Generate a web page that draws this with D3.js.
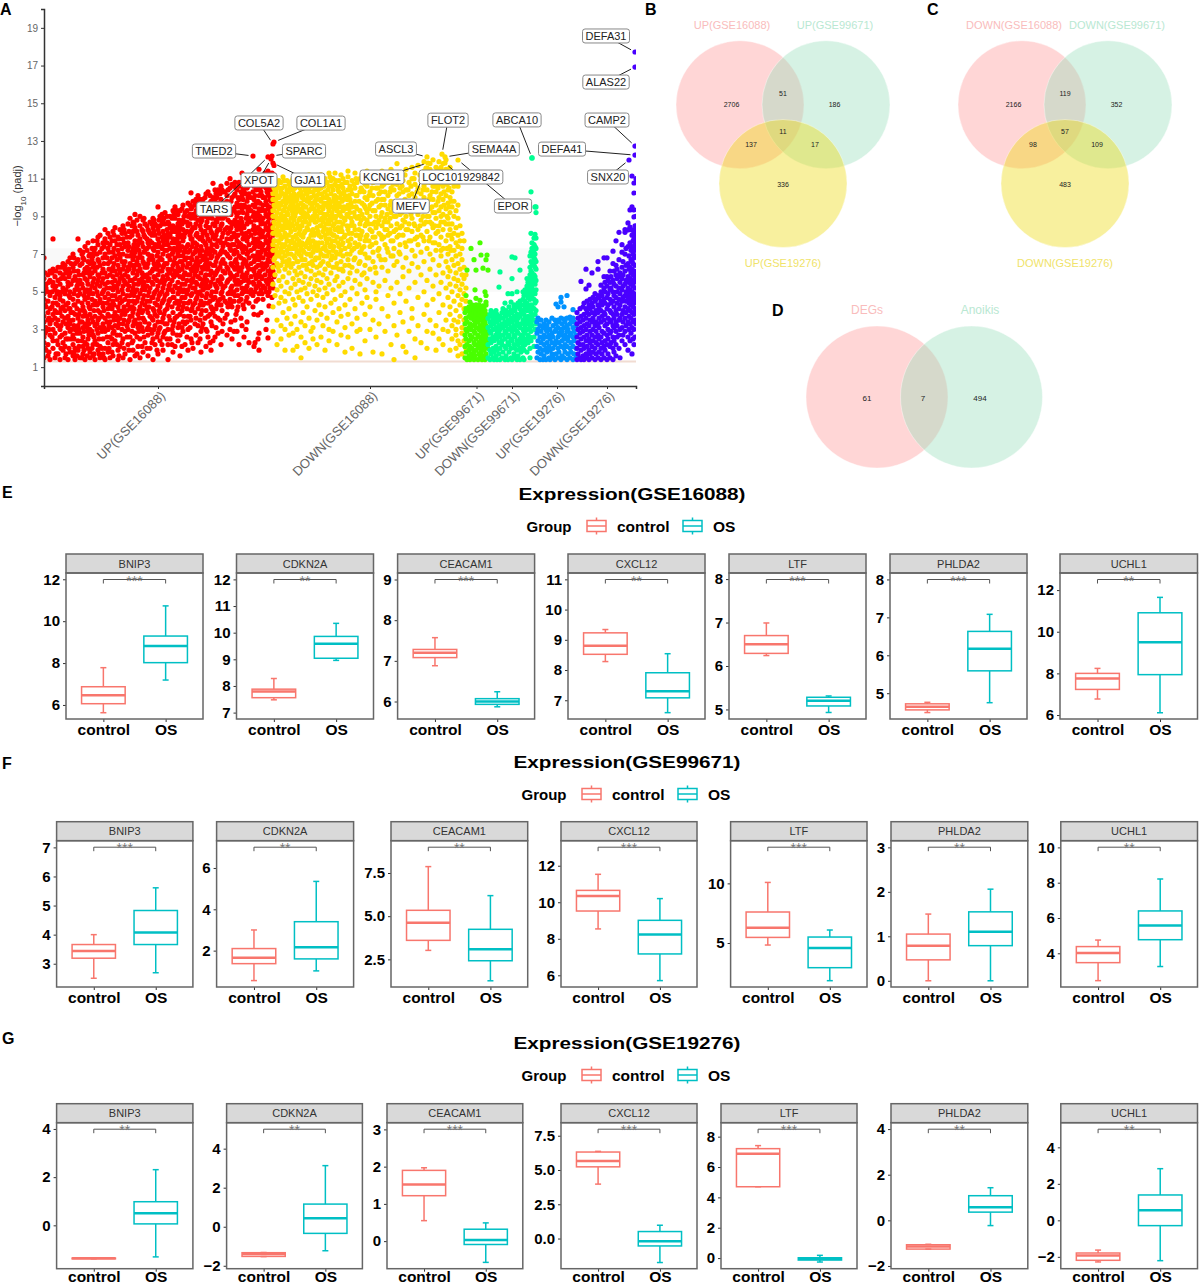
<!DOCTYPE html>
<html>
<head>
<meta charset="utf-8">
<script src="https://cdn.jsdelivr.net/npm/d3@7"></script>
<style>
body { margin: 0; background: #fff; }
text { font-family: "Liberation Sans", Arial, sans-serif; }
</style>
</head>
<body>
<svg id="fig" width="1200" height="1285"></svg>
<script>
// Panel A values. Each column: [position along axis, -log10(padj) values...]
const upGse16088 = [
[0,1.5,2.3,2.6,3.4,3.7,4.6,4.9,5.7,6.8],[2,1.9,2.9,3.1,4.2,5.2,5.4],[4,1.6,2.2,3.5,3.9,4.5,5.0,5.9],[6,1.4,2.7,3.3,4.1,4.8,5.6,6.1],
[9,2.0,2.4,3.0,3.8,4.4,5.3,5.5,6.2,7.8],[11,1.5,2.8,3.6,4.0,4.7,5.1,5.8],[14,1.7,2.2,3.2,3.5,4.3,5.0,5.6,6.3],[16,1.4,2.6,3.0,3.9,4.6,4.8,5.4,6.0],
[19,1.9,2.3,3.4,4.2,4.5,5.2,5.9,6.5],[21,1.5,2.1,2.8,3.6,4.0,4.9,5.7,6.2,6.4],[24,1.4,2.5,3.1,3.7,4.4,5.3,5.5,6.6],[26,1.8,2.9,3.3,4.1,4.7,5.0,6.0,6.8],
[29,1.6,2.2,2.7,3.5,3.9,4.6,5.6,6.3,7.0],[31,1.4,2.0,3.0,3.8,4.3,5.1,5.8,6.5],[34,1.9,2.4,3.2,3.6,4.5,4.8,5.4,6.1,6.7,7.8],[36,1.5,2.8,3.4,4.0,4.9,5.6,6.4,7.2],
[39,1.7,2.1,2.6,3.1,3.7,4.2,5.2,5.9,6.8,7.1],[41,1.4,2.3,3.3,3.9,4.6,5.0,5.7,6.2,7.4],[44,2.0,2.5,2.9,3.5,4.4,4.7,5.4,6.0,6.6,7.6],[46,1.5,1.8,3.0,3.8,4.1,5.1,5.8,6.5,7.0],
[49,1.6,2.2,2.7,3.4,4.3,4.9,5.5,6.3,6.9,7.7],[51,1.4,2.4,3.2,3.7,4.5,5.2,6.1,7.3],[54,1.9,2.8,3.5,4.0,4.8,5.6,5.9,6.7,7.5,7.9],[56,1.5,2.1,3.1,3.9,4.6,5.3,6.4,7.1,8.0],
[59,1.7,2.5,3.3,4.2,4.4,5.0,5.7,6.2,6.8,7.6],[61,1.4,2.0,2.9,3.6,4.7,5.4,6.0,7.0,7.8,8.3],[64,1.8,2.3,3.0,3.8,4.1,4.9,5.5,6.5,7.3,8.1],[66,1.5,2.6,3.4,4.3,5.2,5.9,6.6,7.5,7.9],
[69,1.6,2.2,2.8,3.7,4.5,5.1,5.8,6.3,7.1,8.2],[71,2.4,3.2,3.9,4.8,5.6,6.1,6.9,7.7,8.4],[74,1.4,1.9,3.1,3.5,4.2,5.0,5.4,6.4,7.2,7.9],[76,2.1,2.7,3.6,4.4,4.7,5.7,6.0,6.8,7.5,8.3],
[79,1.5,2.5,3.3,4.0,4.9,5.3,6.2,7.0,7.8,8.5],[81,1.7,2.9,3.8,4.6,5.5,5.9,6.6,7.4,8.1],[84,2.2,3.0,3.4,4.3,5.1,5.8,6.3,7.2,7.6,8.6],[86,1.4,2.6,3.7,4.1,4.8,5.6,6.5,6.9,7.9,8.9],
[89,1.9,2.4,3.2,3.9,4.5,5.2,6.0,6.7,7.3,8.2,8.7],[91,1.6,2.8,3.5,4.4,5.0,5.7,6.4,7.1,7.7,8.4,9.1],[94,2.1,3.1,3.8,4.7,5.4,6.1,6.8,7.5,8.0],[96,1.5,2.5,3.3,4.2,4.9,5.5,6.2,7.0,7.8,8.5,9.0],
[99,1.8,2.9,3.6,4.0,4.6,5.3,5.9,6.6,7.4,8.2,8.8],[101,2.3,3.4,4.3,5.1,5.8,6.3,7.2,7.9,8.6],[104,1.6,2.7,3.1,3.9,4.8,5.6,6.5,7.0,7.6,8.3],[106,2.0,3.0,3.7,4.5,5.2,6.0,6.9,7.7,8.1,8.7],
[109,1.4,2.5,3.5,4.1,4.7,5.4,6.2,6.7,7.3,8.4,8.9],[111,2.2,3.2,3.8,4.4,5.0,5.7,6.4,7.5,8.0,8.6],[114,1.7,2.8,3.4,4.6,5.3,5.9,6.6,7.1,7.8,8.3,9.5],[116,2.4,3.1,3.9,4.2,4.9,5.5,6.1,6.8,7.4,8.5,9.0],
[119,1.9,2.6,3.6,4.5,5.2,5.8,6.3,7.0,7.7,8.2,8.8],[121,2.9,3.3,4.0,4.8,5.6,6.5,7.2,7.9,8.6,9.2],[124,1.4,2.2,3.0,4.3,5.1,5.7,6.2,6.9,7.5,8.1,8.7],[126,2.5,3.5,4.6,5.4,6.0,6.7,7.3,8.0,8.4,9.0],
[129,1.8,2.8,3.2,3.9,4.7,5.0,5.9,6.4,7.1,7.8,8.5,9.3],[131,2.1,3.6,4.4,5.3,6.1,6.8,7.6,8.2,8.9,9.5],[134,2.4,3.1,4.1,4.9,5.5,6.3,7.0,7.4,8.0,8.6,9.1],[136,1.6,2.7,3.8,4.5,5.2,5.8,6.6,7.2,7.9,8.4,9.3],
[139,2.9,3.4,4.2,5.0,5.7,6.4,6.9,7.7,8.3,8.8,9.6],[141,2.2,3.3,4.7,5.4,6.0,6.7,7.3,8.1,8.7,9.2],[144,1.9,3.0,3.7,4.4,5.1,5.9,6.5,7.1,7.5,8.5,9.0,9.7],[147,2.5,3.5,4.0,4.8,5.6,6.2,6.8,7.8,8.2,8.9,9.4,10.25],
[149,2.0,4.3,5.2,5.7,6.3,7.0,7.6,8.4,9.1,9.8],[152,2.7,3.6,4.6,5.0,5.5,6.1,6.6,7.3,8.0,8.6,9.3,9.9],[154,2.3,3.2,4.1,4.9,5.8,6.4,7.2,7.9,8.8,9.5,10.1],[157,1.8,2.9,3.8,4.5,5.3,6.0,6.9,7.4,8.3,8.7,9.0,9.7],
[159,3.3,4.3,5.1,5.6,6.2,6.7,7.7,8.1,9.2,9.9],[162,2.1,3.0,4.0,4.7,5.4,5.9,6.5,7.1,7.5,8.5,9.4,10.2],[164,2.6,3.7,4.4,5.2,6.3,7.0,7.8,8.4,8.9,9.6,10.3],[167,1.9,3.4,4.2,4.8,5.5,6.1,6.8,7.3,8.2,9.1,9.8],
[169,2.4,3.9,4.6,5.7,6.4,7.2,7.9,8.6,9.3,10.0,10.75],[172,3.1,4.1,5.0,5.3,6.0,6.6,7.5,8.0,8.8,9.5,10.2],[174,2.8,3.6,4.5,5.6,6.2,6.9,7.7,8.3,9.0,9.7,10.4],[177,2.2,4.3,4.9,5.4,5.8,6.5,7.1,7.6,8.5,9.2,9.9,10.6],
[179,3.3,4.7,5.2,6.1,6.7,7.4,8.1,8.9,9.6,10.3],[183,2.7,3.8,4.4,5.5,6.3,7.0,7.8,8.4,9.1,9.8,10.1,10.75],[186,3.0,4.6,5.0,5.7,6.0,6.8,7.3,8.2,8.7,9.4,10.5,11.0],[188,2.5,4.2,4.9,5.3,6.4,7.5,7.9,8.6,9.3,10.0,10.7],
[191,3.5,4.8,5.6,6.2,6.6,7.2,8.0,8.8,9.5,10.2,10.8],[193,2.9,4.0,5.1,5.9,6.5,7.1,7.7,8.3,9.0,9.7,10.4],[195,2.2,4.5,5.4,6.1,6.9,7.6,8.5,9.2,9.9,10.6,10.8],[198,3.2,4.9,5.2,5.8,6.3,7.3,8.1,8.7,9.4,10.1,10.8,11.3],
[200,2.6,4.1,5.0,5.6,6.7,7.4,7.9,8.4,9.6,10.3,10.9],[203,3.4,4.7,5.3,6.0,6.4,7.0,7.7,8.6,9.1,9.8,10.5],[205,2.3,4.4,5.5,6.2,6.8,7.5,8.2,8.9,9.5,10.2,10.7],[207,4.9,5.1,5.8,6.5,7.2,8.0,8.7,9.3,10.0,10.9],
[210,2.1,3.8,5.4,6.1,6.6,7.3,7.8,8.5,9.2,9.9,10.6],[212,4.5,5.2,5.7,6.3,6.9,7.6,8.3,9.0,9.7,10.4,11.0],[215,1.9,2.8,4.9,5.5,6.0,6.7,7.4,8.1,8.8,9.4,10.1,10.7,11.5],[217,3.9,5.1,5.8,6.4,7.1,7.9,8.6,9.3,10.3,10.9],
[219,4.6,5.3,6.2,6.8,7.5,8.2,8.9,9.6,10.0,10.6],[222,3.0,5.0,5.6,6.5,7.0,7.7,8.4,9.1,9.8,10.5,11.1],[224,2.55,4.8,5.4,6.1,6.7,7.3,8.0,8.7,9.4,10.2,10.8,11.4],[226,5.2,5.9,6.6,7.2,7.8,8.5,9.2,9.9,10.4,11.0],
[228,4.7,5.5,6.0,6.3,6.9,7.6,8.3,9.0,9.5,10.1,10.7,11.3],[230,5.8,6.4,7.1,7.4,8.1,8.8,9.7,10.3,10.9,11.2,11.7]
];
// second pass over the red cloud, the gaps between the columns above
const upGse16088Fill = [
[1,2.0,2.8,4.3,5.1,6.0],[5,1.8,3.0,3.6,5.5],[8,2.6,3.5,4.2,5.0,6.0],[12,1.7,3.3,4.4,5.3,6.1],[13,2.4,3.9,4.9],[17,2.0,3.2,4.1,5.7,6.3],[18,2.7,3.7,5.0],
[22,1.7,2.5,3.3,4.3,5.1,6.0],[25,2.0,3.5,4.1,4.8,5.8,6.2],[27,2.5,3.0,3.9,5.4,6.5],[30,1.8,2.5,3.2,4.3,4.9,6.1,6.8],[33,1.6,2.8,4.1,5.3,5.6,6.6],[35,2.1,3.0,3.8,5.1,5.9],
[38,1.5,2.4,3.4,4.4,5.4,6.5,7.0],[40,1.9,2.9,4.0,4.8,6.0,6.7],[43,1.6,2.2,3.1,3.7,5.1,5.6,6.3,7.2],[45,2.7,3.3,4.2,4.9,6.2,6.9],[48,2.0,2.9,3.6,4.6,5.3,6.0,6.7,7.3],[50,1.7,2.6,4.0,5.7,6.5,7.1],
[53,2.2,3.0,3.3,4.3,5.0,5.4,6.3,7.0,7.7],[55,1.7,2.5,3.6,4.4,5.8,6.6],[58,2.0,2.9,3.7,4.9,5.5,6.0,7.3],[60,1.5,3.1,4.0,5.1,6.5,7.4],[63,2.6,3.4,4.4,5.2,5.8,6.8,7.6],[65,2.0,3.2,3.7,4.6,6.2,7.1],
[68,1.8,2.5,3.1,4.1,4.8,5.5,6.1,6.8,7.7],[70,2.9,3.5,4.3,5.3,6.5,7.3,8.0],[73,2.2,2.7,3.7,4.6,5.2,5.9,6.7,7.5],[75,1.6,3.3,4.0,5.5,6.2,7.0,7.8],[78,2.3,3.0,3.8,4.5,5.1,5.8,6.6,7.3,8.1],[80,2.0,3.5,4.2,5.6,6.4,7.6,8.3],
[83,2.6,3.2,4.0,4.8,5.4,6.1,6.9,7.9],[85,1.9,3.5,4.5,5.3,6.2,7.4,8.2],[88,2.3,2.9,3.7,4.2,5.0,5.6,6.4,7.1,8.0,8.5],[90,3.4,4.1,4.8,5.4,6.2,6.9,7.5,8.6],[93,1.7,2.6,3.3,4.5,5.1,5.9,6.6,7.3,8.2,8.8],[95,2.9,3.6,4.0,5.6,6.4,7.2,7.7],
[98,2.1,3.1,3.9,4.4,5.1,5.7,6.0,6.8,7.6,8.3],[100,2.6,3.5,4.8,5.5,6.5,7.1,8.0,8.9],[103,2.0,3.0,4.1,4.5,5.3,5.9,6.3,7.3,7.8,8.5],[105,3.3,4.2,5.0,5.7,6.7,7.4,8.2],[108,2.3,2.8,3.6,4.7,5.5,6.1,6.9,7.6,8.0,8.6],[110,3.0,4.0,4.9,5.8,6.5,7.2,8.2,8.8],
[113,1.9,2.6,3.7,4.3,5.1,5.6,6.2,6.9,7.4,8.5],[115,3.0,4.0,4.8,6.4,7.6,8.1,8.8],[118,2.2,3.4,4.4,5.0,5.6,6.1,6.7,7.3,7.9,8.6,9.1],[120,2.8,3.8,4.6,5.4,6.4,7.5,8.0,8.9],[123,2.5,3.3,4.1,4.9,5.9,6.5,7.2,7.7,8.3,9.0],[125,3.7,4.5,5.3,6.1,6.9,7.9,8.6],
[128,2.2,3.0,4.2,5.1,5.6,6.2,7.0,7.6,8.2,8.9],[130,3.4,4.7,5.8,6.6,7.3,8.4,9.1],[133,2.7,3.7,4.5,5.2,5.9,6.5,7.2,7.8,8.4,9.3],[135,3.3,4.3,5.0,6.1,6.9,7.6,8.2,8.8],[138,2.1,3.1,4.0,4.7,5.4,6.2,6.6,7.4,8.0,8.6,9.4],[140,3.7,4.4,5.1,5.9,7.1,7.9,9.0],
[143,2.6,3.4,4.1,4.9,5.6,6.3,6.8,7.4,8.2,8.7,9.3],[146,3.1,3.7,4.5,5.3,5.9,6.5,7.2,8.0,8.6,9.1,9.6],[148,2.3,4.1,4.9,5.5,6.1,6.7,7.4,7.8,8.3,9.0,9.5],[151,3.3,3.9,4.4,5.2,5.9,6.4,7.1,7.6,8.4,8.9,9.6],[153,4.7,5.4,6.2,6.8,7.5,8.1,9.1,9.7],
[156,2.5,3.5,4.3,5.0,5.7,6.6,7.0,7.8,8.5,9.2,9.9],[158,3.1,4.0,4.8,5.4,6.3,7.2,7.9,8.8,9.4],[161,3.6,4.4,5.2,5.8,6.4,6.9,7.6,8.2,9.0,9.6,10.0],[163,2.9,4.9,5.6,6.2,6.7,7.3,8.0,8.7,9.3],[166,2.3,3.8,4.5,5.3,5.9,6.5,7.1,7.7,8.4,9.0,9.7,10.1],
[168,3.2,4.1,5.0,6.0,6.9,7.5,8.1,8.9,9.5],[171,2.6,3.7,4.7,5.4,5.9,6.4,7.1,7.8,8.5,9.2,9.9,10.4],[173,4.3,5.2,6.1,6.8,7.4,8.2,8.7,9.4,10.0],[176,3.5,4.6,5.5,6.3,7.0,7.7,8.3,8.9,9.6,10.2],[178,2.9,4.0,5.0,5.7,6.6,7.2,7.9,8.6,9.3,10.4],
[181,3.6,4.5,5.3,6.0,6.5,7.1,7.6,8.3,9.0,9.7,10.3],[184,4.2,4.9,5.6,6.2,6.9,7.5,8.1,8.8,9.5,10.4],[187,3.4,4.4,5.2,5.9,6.5,7.2,7.8,8.4,9.1,9.8],[190,2.9,4.5,5.0,5.8,6.3,7.0,7.5,8.1,8.7,9.4,10.1,10.6],[192,3.8,5.4,6.7,7.9,8.5,9.2,10.5],
[194,4.2,4.8,5.6,6.3,7.4,8.0,8.7,9.5,10.0],[197,3.6,4.6,5.5,6.1,6.8,7.5,8.3,8.9,9.6,10.3],[199,4.3,5.0,5.9,6.5,7.1,7.8,8.5,9.2,9.9,10.5],[202,3.0,4.5,5.2,5.8,6.6,7.3,8.1,8.9,9.5,10.2,10.9],[204,5.0,5.6,6.3,7.1,7.9,8.7,9.3,10.0,10.6],
[209,4.2,4.8,5.5,6.2,6.9,7.6,8.3,9.0,9.6,10.3,10.8],[211,2.3,5.0,5.9,6.7,7.4,8.1,8.8,9.5,10.1],[214,2.5,3.77,4.6,5.3,5.8,6.4,7.1,7.8,8.4,9.2,9.8,10.5,11.1],[216,5.4,6.1,6.9,7.6,8.3,9.0,9.7,10.4],[218,4.9,5.7,6.5,7.3,8.0,8.7,9.4,10.1,10.8],
[221,5.2,5.9,6.3,7.2,7.9,8.6,9.3,10.0,10.7,11.3],[223,3.5,5.5,6.4,7.0,7.6,8.3,9.0,9.6,10.3,10.9],[225,4.25,5.0,5.7,6.9,7.5,8.2,8.9,9.5,10.1,10.6,11.2],[227,5.6,6.2,7.0,7.7,8.4,9.1,9.8,10.5,11.1],[229,5.2,6.1,6.7,7.3,8.0,8.6,9.3,10.0,10.6]
];
const downGse16088 = [
[229,2.9,4.2,5.4,6.3,7.2,7.5,8.1,8.4,9.0,9.3,9.9,10.2,10.7],[231,4.8,5.9,6.8,7.7,8.6,9.5,10.4,11.0],[233,2.2,3.5,5.1,6.5,7.0,7.4,8.0,8.3,8.9,9.2,9.7,10.1,10.6],
[235,4.4,5.6,6.1,6.9,7.6,8.2,8.7,9.4,10.0,10.5,10.9],[237,2.5,3.2,4.7,5.3,6.4,7.3,7.8,8.5,9.1,9.6,10.3,10.8],[239,3.9,5.8,6.6,7.1,7.9,8.3,8.8,9.3,9.8,10.2,11.1],
[241,1.9,3.0,4.5,5.0,6.2,6.9,7.5,8.1,8.6,9.0,9.5,10.0,10.6],[243,3.6,5.5,6.4,7.2,7.7,8.4,9.2,9.9,10.4,10.9],[245,2.7,4.1,4.9,6.0,6.7,7.4,8.0,8.7,9.4,9.8,10.3,10.7],
[247,3.3,5.2,6.3,7.0,7.6,8.2,8.9,9.6,10.1,10.8],[249,1.9,2.8,4.6,5.7,6.5,7.3,7.9,8.5,9.1,9.7,10.4,11.0],[251,3.7,4.3,5.4,6.1,6.8,7.5,8.3,9.0,9.5,10.0,10.5],
[253,2.1,3.0,5.0,5.9,6.6,7.1,7.8,8.6,9.3,9.9,10.6,10.9],[255,4.7,5.6,6.3,7.0,7.7,8.1,8.8,9.4,10.2,10.8],[257,1.5,2.6,3.4,5.1,6.0,6.9,7.4,8.0,8.5,9.2,9.7,10.3,11.1],
[259,3.9,4.5,5.5,6.4,7.2,7.9,8.7,9.0,9.6,10.1,10.7],[261,2.3,3.2,5.2,5.8,6.7,7.5,8.2,8.9,9.5,10.4,10.9],[263,4.2,4.9,6.2,7.0,7.6,8.4,9.1,9.8,10.2,10.6],
[265,2.0,3.6,5.4,6.5,7.3,7.8,8.6,9.3,9.9,10.5,11.2],[267,2.9,4.6,5.7,6.1,6.9,7.4,8.0,8.8,9.4,10.0,10.7],[269,2.5,3.1,5.0,6.4,7.1,7.7,8.3,9.0,9.7,10.3,10.9],
[271,4.0,5.3,5.9,6.7,7.5,8.1,8.7,9.2,9.8,10.4,11.1],[273,2.2,3.5,4.8,5.6,6.3,7.2,8.4,9.0,9.6,10.1,10.6],[275,4.3,5.1,6.0,6.8,7.6,8.0,8.8,9.5,10.2,10.9],
[277,2.6,3.8,5.5,6.5,7.0,7.9,8.5,9.2,9.8,10.5,11.2],[279,3.2,4.7,5.9,6.6,7.3,8.2,8.7,9.4,10.0,10.7],[281,1.9,4.2,5.2,6.2,7.4,8.0,8.9,9.6,10.3,11.0],
[283,3.6,4.9,5.7,6.9,7.6,8.3,9.1,9.7,10.1,10.8],[285,2.4,3.0,5.4,6.4,7.1,7.8,8.6,9.3,9.9,10.6,11.3],[287,4.4,6.0,6.7,7.5,8.1,8.8,9.5,10.2,10.9],
[289,2.9,3.9,5.1,6.3,7.2,8.0,8.5,9.0,9.8,10.4,11.0],[291,4.6,5.6,6.8,7.7,8.3,8.9,9.6,10.1,10.7,11.3],[293,2.2,3.4,5.8,6.5,7.0,7.9,8.7,9.3,10.0,10.6],
[295,4.1,5.3,6.2,7.4,8.2,9.1,9.7,10.3,10.9],[297,2.7,3.7,4.8,6.6,7.2,7.8,8.4,9.0,9.5,10.2,11.2],[299,5.5,6.1,6.9,7.6,8.6,9.3,9.9,10.5,11.0],
[301,1.8,3.1,4.3,5.0,6.4,7.3,8.0,8.8,9.4,10.1,10.8],[304,2.6,3.8,5.7,6.7,7.7,8.3,9.0,9.6,10.4,11.1,11.4],[306,4.6,6.0,7.0,7.5,8.5,9.2,9.9,10.6],
[308,2.0,3.3,5.2,6.3,7.2,8.1,8.7,9.5,10.2,10.9],[311,4.1,5.6,6.8,7.6,8.3,9.0,9.8,10.5,11.3],[313,2.9,3.6,4.9,6.1,7.4,8.0,8.9,9.4,10.1,10.8],
[316,1.7,3.0,5.4,6.6,7.1,7.8,8.6,9.3,10.3,11.0],[318,4.4,5.9,7.3,8.2,9.1,9.7,10.4,11.2],[321,2.4,3.8,5.1,6.4,7.0,7.7,8.5,9.5,10.0,10.7],
[323,4.7,5.7,6.8,8.0,8.8,9.2,9.9,10.6,11.4],[326,3.0,4.2,6.2,7.4,8.3,9.0,9.6,10.3,11.0],[329,1.8,3.5,5.5,6.6,7.1,7.9,8.6,9.3,10.1,10.8,11.3],
[332,2.6,4.6,5.0,6.0,7.6,8.4,9.0,9.8,10.5,11.1],[335,3.3,5.3,6.9,7.3,8.1,8.8,9.5,10.2,10.9],[338,1.7,4.1,6.3,7.8,8.5,9.2,9.9,10.6,11.4],
[341,2.9,5.6,6.7,7.5,8.3,8.9,9.6,10.3,11.0],[344,3.7,4.8,6.1,7.1,8.0,8.7,9.4,10.1,10.8,11.2],[347,2.2,5.2,6.9,7.7,8.5,9.2,9.8,10.5,11.5],
[350,1.4,3.2,4.4,6.4,7.3,8.2,9.0,9.7,10.4,11.1],[353,2.7,5.5,6.6,7.9,8.6,9.4,10.1,10.7,11.8],[356,3.9,4.9,7.0,7.5,8.4,9.1,9.8,10.5,11.2],
[359,2.1,3.4,5.8,6.3,8.0,8.8,9.5,10.3,10.9],[362,1.8,4.5,6.8,7.4,8.3,9.0,9.7,10.4,11.5],[365,2.9,5.2,6.1,7.7,8.6,9.3,10.1,10.8],
[368,3.6,4.1,6.5,7.2,8.2,8.9,9.6,10.2,11.0,11.6],[371,1.5,2.5,5.5,6.9,7.8,8.5,9.4,10.0,10.7,11.3],[374,3.2,4.7,6.3,7.5,8.3,9.1,9.8,10.5,11.7],
[377,2.3,5.9,7.1,8.0,8.8,9.5,10.2,10.9],[380,3.8,5.0,6.6,7.7,8.6,9.3,10.0,10.6,11.4,11.9],[383,2.0,2.9,4.3,5.6,7.3,8.2,9.0,9.7,10.4,11.1,11.56],
[386,3.5,6.2,7.0,7.9,8.7,9.4,10.1,10.8,11.5,11.8],[389,2.8,4.6,5.3,6.7,7.6,8.4,9.2,9.9,10.6,11.2,12.0],[392,1.9,3.2,5.9,7.2,8.1,8.9,9.6,10.3,10.9,11.6],
[395,2.5,3.9,4.9,6.4,7.5,8.5,9.3,10.0,10.7,11.3,11.9],[397,5.5,6.9,7.9,8.7,9.5,10.2,11.0],[399,2.2,3.0,4.3,6.0,7.3,8.3,9.1,9.9,10.6,11.4,11.8],
[402,3.5,5.2,6.6,7.7,8.6,9.4,10.1,10.8,11.5,12.0],[404,2.9,4.7,5.8,6.3,7.0,8.0,8.9,9.7,10.4,11.2],[406,1.9,3.8,4.2,5.4,6.1,7.4,8.3,9.2,10.0,10.8,11.6],
[408,2.5,3.2,5.0,6.7,7.8,8.6,9.5,10.3,11.1],[410,3.5,4.5,5.7,6.4,7.2,8.1,9.0,9.8,10.6],[412,2.0,2.7,3.0,4.0,5.3,6.0,6.9,7.6,8.4,9.3],
[414,1.6,2.4,3.4,4.8,5.6,6.5,7.4,8.0,8.9,9.6,10.6],[416,2.2,3.7,4.3,5.1,6.2,7.0,7.7,8.5],[418,1.7,2.8,3.1,4.6,5.4,5.9,6.7,7.3,8.1],[420,2.4,3.5,4.1,4.9,5.7,6.3,7.7],[422,2.0,3.0,4.5,5.2,5.9]
];
// second pass over the yellow cloud, where it is solid in the picture
const downGse16088Fill = [
[230,6.7,7.7,8.7,9.6,10.5],[232,7.2,8.2,9.0,9.9,10.3],[234,6.3,7.7,8.5,9.5,10.8],[236,7.1,8.0,8.9,9.7,10.1],[238,6.8,7.5,8.3,9.0,10.5],[240,7.4,8.4,9.3,9.8,10.9],[242,6.6,7.9,8.8,9.7,10.2],
[244,7.0,7.7,8.5,9.1,10.0],[246,6.5,7.3,8.4,9.5,10.5],[248,7.7,8.6,9.3,9.9,10.9],[250,6.9,7.6,8.8,9.4,10.2],[252,7.3,8.0,9.2,9.8,10.7],[254,6.6,7.5,8.4,9.6,10.1],[256,7.2,8.3,8.9,10.5],
[258,6.7,7.6,8.5,9.4,10.0],[260,7.1,8.1,9.2,9.9,10.6],[262,6.4,7.4,8.7,9.5,10.3],[264,7.7,8.3,9.0,10.0,10.9],[266,7.0,7.6,8.9,9.7,10.3],[268,6.6,8.2,9.5,10.6],[270,7.3,8.0,8.9,9.4,10.1],
[272,6.8,7.6,8.7,9.9,10.8],[274,7.4,8.2,9.3,10.4],[276,6.4,7.2,8.5,9.2,9.9,10.5],[278,7.6,8.9,9.5,10.2,11.0],[280,6.9,8.4,9.1,9.7,10.6],[282,7.2,7.8,8.6,10.0],[284,6.5,8.1,8.8,9.5,10.4],
[286,7.4,8.3,9.0,9.7,11.1],[288,6.9,7.7,9.2,10.6],[290,7.4,8.0,8.6,9.4,10.0],[292,6.3,7.1,8.3,9.0,9.8,10.9],[294,7.6,8.4,9.5,10.4],[296,7.0,8.7,9.2,10.0,10.6],[298,6.2,7.5,8.2,9.8,10.7],
[300,7.9,8.9,9.5,10.3],[303,7.0,8.5,9.1,9.9,10.8],[305,6.4,7.4,8.1,9.4,10.1],[307,7.8,8.9,9.7,10.4],[310,6.7,7.3,8.5,9.2,10.7],[312,8.0,9.5,10.1,11.0],[315,6.5,7.5,8.3,9.0,9.8],
[317,7.1,8.0,8.8,10.5],[320,6.0,7.4,8.9,9.6,10.3],[322,7.9,8.6,9.4,11.0],[325,6.8,7.7,8.6,9.4,10.1],[328,7.5,8.2,9.7,10.5],[331,6.3,7.9,8.7,9.3,11.0],[334,7.2,8.6,9.9,10.5],[337,6.7,8.0,9.0,9.6,10.3],
[340,7.9,8.7,9.9,10.7],[343,7.3,8.3,9.1,11.0],[346,8.1,8.9,9.6,10.3],[349,6.9,7.7,9.4,10.7],[352,8.3,9.0,9.8,11.1],[355,7.1,8.0,9.5,10.2],[358,8.5,9.2,10.6],[361,7.6,8.7,9.9,11.2],
[364,8.3,9.5,10.4],[367,7.7,9.1,10.6],[370,8.6,9.8,11.0],[373,7.9,9.3,10.3],[376,8.5,9.8,11.2],[379,7.9,9.0,10.4],[382,8.7,9.4,10.8],[385,7.7,9.0,9.9,11.3],[388,8.6,9.5,10.3,11.0],
[391,7.6,8.5,9.2,10.6],[394,8.2,9.8,10.5,11.5],[397,7.2,9.0,11.6],[400,8.7,9.6,10.3,11.2],[403,7.3,9.0,10.7],[405,8.6,9.5,10.5,11.4],[407,7.2,8.0,9.8]
];
const upGse99671 = [
[421,1.5,2.1,2.7,3.3,3.9],[422,1.8,2.5,3.0,3.6,4.1,4.8],[423,1.4,2.2,2.9,3.4,4.0,6.15],[425,1.6,1.9,2.4,3.1,3.7,4.2],[426,1.4,2.1,2.7,3.3,3.9,4.45],[427,1.7,2.5,3.0,3.6,4.1,7.3],
[428,1.5,2.0,2.6,3.2,3.8,4.3],[430,1.4,1.8,2.3,2.9,3.5,4.0,6.7],[431,1.6,2.2,2.8,3.3,3.7,4.2,5.1],[432,1.9,2.5,3.1,3.9,4.3,4.65,6.15],[434,1.4,2.1,2.7,3.4,3.6,4.1],
[435,1.7,2.3,3.0,3.8,4.3],[436,1.5,2.0,2.6,3.2,4.0,4.55,7.6],[437,1.8,2.4,2.9,3.5,4.2,6.95],[438,1.4,2.2,3.1,3.7,4.1],[439,1.6,2.0,2.7,3.3,3.9,4.25,6.25],[440,1.9,2.5,3.0,3.6,4.2],
[441,1.4,2.3,2.8,3.4,4.0,5.0],[442,1.7,2.1,2.6,3.2,3.8,4.3,4.45,4.8,6.7],[443,1.5,2.4,3.0,3.6,6.95],[444,2.0,2.8,6.15]
];
const downGse99671 = [
[444,1.5,2.2,3.1,3.6],[446,1.4,1.9,2.5,2.9,3.4,3.8],[447,1.7,2.3,2.8,3.2,3.7,4.0],[449,1.5,2.0,2.6,3.0,3.5,3.9],[450,1.4,1.8,2.4,3.3,3.7],[452,1.6,2.1,2.7,3.1,3.6,4.0],
[453,1.4,1.9,2.5,2.9,3.4,3.8],[455,1.7,2.3,2.8,3.2,3.5,5.25],[456,1.4,2.0,2.6,3.0,3.7,6.05],[458,1.5,2.2,2.4,3.3,3.9],[459,1.8,2.7,3.1,3.6,4.1],[461,1.4,2.1,2.5,2.9,3.4,3.8,4.4],
[462,1.6,2.0,2.8,3.2,3.7,4.0],[464,1.4,2.3,2.6,3.0,3.5,3.9,4.9],[465,1.8,2.2,2.7,3.3,3.8,4.2],[467,1.5,2.0,2.5,3.1,3.6,4.0,4.45],[468,1.4,2.4,2.9,3.4,3.9,6.85,5.7,4.9],[470,1.7,2.2,2.7,3.2,3.7,4.1,4.3],
[471,1.5,2.0,2.6,3.0,3.5,4.0,6.8],[473,1.4,1.9,2.4,2.9,3.4,3.8,4.2,5.0],[474,1.6,2.2,2.8,3.2,3.6,4.4],[476,1.4,2.0,2.5,3.1,3.7,4.1,4.5,6.15],[477,1.8,2.3,2.7,3.3,3.9,4.3],[479,1.5,2.1,2.6,3.0,3.5,4.0,4.6,5.0],
[480,1.4,1.9,2.4,2.9,3.4,3.8,4.3,4.8],[481,2.2,2.8,3.2,3.6,4.1,4.5,5.1],[483,1.8,2.5,3.0,3.5,4.0,4.4,4.9,5.3,5.7],[484,2.3,2.7,3.3,3.7,4.2,4.7,5.1,5.5],[486,1.5,2.0,2.6,3.1,3.6,4.0,4.6,5.0,5.4,5.9,6.3,6.9],
[487,2.4,2.9,3.4,3.9,4.3,4.8,5.3,5.7,6.1,6.6,7.1,8.1,10.3],[488,3.2,3.7,4.2,4.7,5.2,5.6,6.0,6.5,6.9,7.3,7.6,12.1],[490,2.1,2.6,3.5,4.1,4.6,5.0,5.5,5.9,6.4,6.8,7.2,7.5,7.85],[491,3.0,3.8,4.4,4.9,5.4,5.8,6.3,6.7,7.0,7.4,8.05,9.5],[492,3.3,4.0,4.5,5.1,5.6,6.2,6.6,7.3,7.85,9.2,9.5]
];
const upGse19276 = [
[493,1.5,2.1,2.8,3.4],[494,1.8,2.4,3.0,3.6],[496,1.4,2.0,2.6,3.2],[497,1.7,2.3,2.9,3.5],[499,1.4,1.9,2.5,3.1],[500,1.6,2.2,2.7,3.3],
[502,1.4,2.0,2.6,3.0,3.5],[503,1.8,2.3,2.9,3.2],[505,1.5,2.1,2.7,3.4],[506,1.4,1.9,2.5,3.0],[508,1.7,2.3,2.8,3.6],[509,1.5,2.0,2.6,3.2],
[511,1.4,2.2,2.9,3.5],[512,1.7,2.4,3.0,3.3,4.35],[514,1.5,2.0,2.6,3.1,3.5,4.2],[515,1.8,2.3,2.8,3.4],[517,1.4,2.1,2.7,3.0,3.6,4.7,4.45],[518,1.6,2.4,2.9,3.3],
[520,1.5,2.0,2.5,3.1,3.55,4.2],[521,1.8,2.2,2.7,3.4],[523,1.4,2.1,2.9,3.2,3.6,4.8],[524,1.7,2.4,2.6,3.0],[526,1.5,2.0,2.8,3.3,3.65],[527,1.8,2.3,2.7,3.5],
[529,1.4,2.1,2.6,3.1,3.6,4.05],[530,1.7,2.4,2.9,3.4],[532,1.5,2.0,2.7,3.2]
];
const downGse19276 = [
[533,1.4,2.0,2.6,3.3,3.9],[534,1.7,2.3,3.0,3.6],[536,1.5,2.2,2.8,3.4,4.1],[537,1.4,1.9,2.5,3.1,3.7,5.55],[539,1.6,2.2,2.9,3.5,4.2],[540,1.4,2.0,2.6,3.2,3.8,4.4],
[542,1.7,2.4,3.0,3.6,4.1,5.15,6.2],[543,1.5,2.1,2.7,3.3,3.9,4.5],[545,1.4,1.9,2.5,3.2,3.8,4.3,5.35],[546,1.7,2.3,2.9,3.5,4.1,4.6],[548,1.5,2.1,2.7,3.4,3.9,4.4,6.0],[549,1.8,2.4,3.0,3.6,4.2,4.7],
[551,1.4,2.0,2.6,3.2,3.8,4.5,4.9],[552,1.7,2.3,2.9,3.4,4.0,4.6],[554,1.5,2.2,2.7,3.3,3.9,4.3,4.8,6.2,6.6],[555,1.8,2.5,3.1,3.6,4.1,4.7],[557,1.4,2.0,2.6,3.4,4.0,4.5,5.0,5.35],[558,1.7,2.3,2.9,3.7,4.3,4.8],
[560,1.5,2.1,2.8,3.5,3.9,4.6,5.2,5.8,6.8],[561,1.9,2.4,3.2,3.8,4.4,5.0,5.5],[563,1.4,2.2,2.7,3.3,4.1,4.7,5.3,5.8,6.8],[564,1.7,2.5,3.0,3.6,4.3,4.9,5.6],[566,1.5,2.1,2.8,3.5,4.0,4.6,5.1,5.5,6.1],[567,2.3,2.9,3.4,3.9,4.4,5.2,5.8],
[569,1.4,2.0,2.6,3.2,3.8,4.5,5.0,5.6,6.5,7.15],[570,1.8,2.4,3.1,3.6,4.2,4.8,5.4,6.1],[572,1.6,2.2,2.9,3.4,4.0,4.7,5.3,5.9,6.4,7.7],[573,2.6,3.2,3.8,4.4,5.0,5.7,6.2],[575,2.0,2.7,3.5,4.1,4.6,5.2,5.8,6.7,8.15],[576,1.5,3.0,3.6,4.3,4.9,5.5,6.0],
[578,2.4,3.1,3.8,4.5,5.1,5.7,6.3,7.1,7.5],[579,2.7,3.4,4.0,4.7,5.3,5.9,6.6],[581,2.2,2.9,3.6,4.2,4.8,5.4,6.1,7.0,8.15,8.3],[582,3.2,3.9,4.5,5.0,5.6,6.4,7.3],[584,1.9,2.6,3.4,4.1,4.7,5.2,5.8,6.5,7.4,8.28,8.65],[585,3.0,3.7,4.4,4.9,5.5,6.2,6.9],
[586,2.4,3.3,4.0,4.6,5.1,5.7,6.3,7.6,8.43,9.34],[587,2.8,3.6,4.3,4.8,5.4,6.0,6.7,7.2],[588,1.7,3.1,3.9,4.5,5.0,5.6,6.2,6.6,7.4,8.0,8.28,9.5,11.14],[589,2.5,3.4,4.2,4.7,5.3,5.9,6.5,7.0,7.7],
[590,2.2,3.0,3.8,4.4,4.9,5.5,6.1,6.8,7.4,7.8,8.2,8.97,9.34,10.24,10.77],[591,2.6,3.5,4.1,4.6,5.2,5.8,6.4,7.2,7.6,8.1,8.5],[592,3.3,3.9,4.8,5.6,6.0,6.9,7.9,8.3,9.0,11.0]
];
const pointGroups = [upGse16088.concat(upGse16088Fill), downGse16088.concat(downGse16088Fill), upGse99671, downGse99671, upGse19276, downGse19276];
const pointColors = ["#FF0000", "#FFDB00", "#49FF00", "#00FF92", "#0092FF", "#4900FF"];
const groupNames = ["UP(GSE16088)", "DOWN(GSE16088)", "UP(GSE99671)", "DOWN(GSE99671)", "UP(GSE19276)", "DOWN(GSE19276)"];
const groupTicks = [114, 326, 432.5, 468, 513, 563];
const yTicksA = [1, 3, 5, 7, 9, 11, 13, 15, 17, 19];

// gene, group index, position, value
const hitGenes = ["COL5A2","COL1A1","SPARC","TMED2","XPOT","GJA1","TARS","FLOT2","ASCL3","SEMA4A","KCNG1","LOC101929842","MEFV","EPOR","ABCA10","DEFA31","ALAS22","CAMP2","DEFA41","SNX20"];
const hitGroups = [0,0,0,0,0,0,0,1,1,1,1,1,1,1,3,5,5,5,5,5];
const hitPositions = [229,230,228,209,227,229,224,398,383,401,384,401,382,414,488,591,591,591,591,585];
const hitValues = [12.84,12.94,12.2,12.2,12.04,11.83,12.15,12.3,12.15,12.15,11.83,11.83,11.56,11.99,12.1,17.72,16.92,12.73,12.25,11.99];
const hitLabelDx = [-14,47,32,-39,-12,35,-54,6,-31,49,-46,16,-15,55,-15,-29,-29,-28,-73,-21];
const hitLabelDy = [-21,-19,-5,-5,21,17,52,-34,-8,-8,14,14,38,46,-38,-16,15,-26,-6,17];

// Venn counts
const vennUpCounts = [2706, 186, 336, 51, 137, 17, 11];
const vennDownCounts = [2166, 352, 483, 119, 98, 109, 57];
const vennUpNames = ["UP(GSE16088)", "UP(GSE99671)", "UP(GSE19276)"];
const vennDownNames = ["DOWN(GSE16088)", "DOWN(GSE99671)", "DOWN(GSE19276)"];
const vennAnoikisCounts = [61, 7, 494];
const vennAnoikisNames = ["DEGs", "Anoikis"];

// Box plots: [low, q1, median, q3, high] for control then OS
const genes = ["BNIP3", "CDKN2A", "CEACAM1", "CXCL12", "LTF", "PHLDA2", "UCHL1"];
const groups = ["control", "OS"];

const statsE = [
  [[5.63,6.06,6.46,6.87,7.78],[7.19,8.02,8.82,9.29,10.73]],
  [[7.48,7.56,7.79,7.88,8.28],[8.96,9.04,9.58,9.86,10.35]],
  [[6.88,7.08,7.20,7.28,7.57],[5.87,5.93,6.0,6.07,6.24]],
  [[8.28,8.52,8.80,9.23,9.34],[6.59,7.08,7.30,7.91,8.54]],
  [[6.24,6.29,6.50,6.70,6.99],[4.93,5.08,5.20,5.28,5.31]],
  [[4.49,4.56,4.64,4.72,4.76],[4.75,5.59,6.17,6.63,7.08]],
  [[6.77,7.23,7.76,8.0,8.24],[6.11,7.94,9.49,10.91,11.65]]
];
const domainsE = [[5.33,12.3],[6.76,12.24],[5.57,9.16],[6.38,11.21],[4.78,8.14],[4.32,8.17],[5.81,12.82]];
const ticksE = [[6,8,10,12],[7,8,9,10,11,12],[6,7,8,9],[7,8,9,10,11],[5,6,7,8],[5,6,7,8],[6,8,10,12]];
const starsE = ["***","**","***","**","***","***","**"];

const statsF = [
  [[2.5,3.19,3.44,3.66,4.0],[2.69,3.66,4.07,4.83,5.61]],
  [[0.55,1.37,1.66,2.10,3.0],[1.02,1.6,2.16,3.4,5.35]],
  [[3.02,3.6,4.62,5.34,7.87],[1.26,2.42,3.08,4.24,6.19]],
  [[8.54,9.52,10.34,10.65,11.53],[5.71,7.17,8.23,9.01,10.2]],
  [[4.83,5.47,6.28,7.6,10.08],[1.84,2.93,4.58,5.5,6.09]],
  [[0,0.47,0.79,1.05,1.5],[0,0.79,1.10,1.55,2.06]],
  [[2.45,3.47,4.02,4.38,4.75],[3.25,4.77,5.58,6.4,8.21]]
];
const domainsF = [[2.2,7.23],[0.24,7.32],[0.9,9.37],[5.36,13.37],[1.31,13.58],[-0.14,3.15],[2.09,10.38]];
const ticksF = [[3,4,5,6,7],[2,4,6],[2.5,5,7.5],[6,8,10,12],[5,10],[0,1,2,3],[4,6,8,10]];
const starsF = ["***","**","**","***","***","**","**"];

const statsG = [
  [[-1.39,-1.39,-1.37,-1.36,-1.35],[-1.31,0.06,0.5,0.98,2.31]],
  [[-1.53,-1.52,-1.40,-1.33,-1.32],[-1.23,-0.34,0.43,1.16,3.13]],
  [[0.55,1.22,1.52,1.9,1.97],[-0.57,-0.09,0.03,0.32,0.49]],
  [[3.97,5.23,5.65,6.31,6.36],[-1.75,-0.54,-0.19,0.51,0.97]],
  [[4.7,4.7,6.88,7.21,7.41],[-0.26,-0.13,-0.05,0.02,0.18]],
  [[-1.26,-1.26,-1.15,-1.07,-1.05],[-0.23,0.36,0.57,1.08,1.43]],
  [[-2.28,-2.19,-1.92,-1.79,-1.63],[-2.21,-0.29,0.55,1.39,2.83]]
];
const domainsG = [[-1.8,4.26],[-2.15,5.33],[-0.74,3.18],[-2.2,8.45],[-0.7,8.92],[-2.12,4.28],[-2.65,5.35]];
const ticksG = [[0,2,4],[-2,0,2,4],[0,1,2,3],[0,2.5,5,7.5],[0,2,4,6,8],[-2,0,2,4],[-2,0,2,4]];
const starsG = ["**","**","***","***","***","**","**"];

const boxColor = d3.scaleOrdinal().domain(groups).range(["#F8766D", "#00BFC4"]);
const svg = d3.select("#fig");

// panel letters
const letters = [["A",0,15],["B",645,15],["C",927,15],["D",772,316],["E",2,498],["F",2,769],["G",2,1044]];
svg.selectAll(".letter").data(letters).enter().append("text")
    .attr("x", d => d[1]).attr("y", d => d[2])
    .style("font-size", "16px").style("font-weight", "bold").attr("fill", "#000")
    .text(d => d[0]);

// ---------- Panel A ----------
function drawScatter() {
    const x = d3.scaleLinear().domain([0, 592]).range([44, 636]);
    const y = d3.scaleLinear().domain([0, 20]).range([386, 9]);
    const g = svg.append("g");

    g.append("clipPath").attr("id", "clip-a").append("rect")
        .attr("x", 44).attr("y", 0).attr("width", 592).attr("height", 386);

    g.append("rect").attr("x", x(0)).attr("width", x(592) - x(0))
        .attr("y", y(7.3)).attr("height", y(5) - y(7.3)).attr("fill", "#f9f9f9");
    g.append("line").attr("x1", x(0)).attr("x2", x(592)).attr("y1", y(1.3)).attr("y2", y(1.3))
        .attr("stroke", "#f1dcd2").attr("stroke-width", 2);

    const dots = g.append("g").attr("clip-path", "url(#clip-a)");
    pointGroups.forEach((columns, i) => {
        const pts = [];
        columns.forEach(c => c.slice(1).forEach(v => pts.push([c[0], v])));
        dots.selectAll(null).data(pts).enter().append("circle")
            .attr("cx", d => x(d[0])).attr("cy", d => y(d[1])).attr("r", 2.6)
            .attr("fill", pointColors[i]);
    });
    hitGenes.forEach((gene, i) => {
        dots.append("circle").attr("cx", x(hitPositions[i])).attr("cy", y(hitValues[i]))
            .attr("r", 2.6).attr("fill", pointColors[hitGroups[i]]);
    });

    // axes
    const axisY = d3.axisLeft(y).tickValues(yTicksA).tickSize(3);
    const ay = g.append("g").attr("transform", "translate(44,0)").call(axisY);
    ay.select(".domain").attr("stroke", "#333").attr("stroke-width", 1.5);
    ay.selectAll(".tick line").attr("stroke", "#333");
    ay.selectAll(".tick text").attr("fill", "#666").style("font-size", "10px");

    const axisX = d3.axisBottom(x).tickValues(groupTicks).tickSize(3).tickFormat((d, i) => groupNames[i]);
    const ax = g.append("g").attr("transform", "translate(0,386)").call(axisX);
    ax.select(".domain").attr("stroke", "#333").attr("stroke-width", 1.5);
    ax.selectAll(".tick line").attr("stroke", "#333");
    ax.selectAll(".tick text").attr("fill", "#666").style("font-size", "13px")
        .attr("text-anchor", "end").attr("transform", "translate(-1,2) rotate(-45)").attr("y", 3).attr("dy", "0.71em");

    const title = g.append("text").attr("transform", "translate(21,196) rotate(-90)")
        .attr("text-anchor", "middle").attr("fill", "#333").style("font-size", "11px");
    title.append("tspan").text("\u2212log");
    title.append("tspan").attr("baseline-shift", "sub").style("font-size", "8px").text("10");
    title.append("tspan").text(" (padj)");

    // gene labels with leader lines
    const labels = g.append("g");
    hitGenes.forEach((gene, i) => {
        const px = x(hitPositions[i]), py = y(hitValues[i]);
        const cx = px + hitLabelDx[i], cy = py + hitLabelDy[i];
        const len = Math.hypot(cx - px, cy - py);
        labels.append("line")
            .attr("x1", px + (cx - px) / len * 4.5).attr("y1", py + (cy - py) / len * 4.5)
            .attr("x2", cx).attr("y2", cy)
            .attr("stroke", "#222").attr("stroke-width", 1);
    });
    hitGenes.forEach((gene, i) => {
        const px = x(hitPositions[i]), py = y(hitValues[i]);
        const cx = px + hitLabelDx[i], cy = py + hitLabelDy[i];
        const box = labels.append("rect").attr("fill", "#fff").attr("stroke", "#888")
            .attr("stroke-width", 1).attr("rx", 2.5);
        const t = labels.append("text").attr("x", cx).attr("y", cy + 4)
            .attr("text-anchor", "middle").attr("fill", "#222").style("font-size", "11px").text(gene);
        const w = t.node().getComputedTextLength() + 6;
        box.attr("x", cx - w / 2).attr("y", cy - 7).attr("width", w).attr("height", 14);
    });
}

// ---------- Venn panels ----------
function drawVenn3(cx, names, counts) {
    const cy = 104.7, r = 64;
    const circles = [[cx - 43, cy, "#ff9999"], [cx + 43, cy, "#99debb"], [cx, 183.5, "#edd90c"]];
    const g = svg.append("g");
    g.selectAll("circle").data(circles).enter().append("circle")
        .attr("cx", d => d[0]).attr("cy", d => d[1]).attr("r", r)
        .attr("fill", d => d[2]).attr("fill-opacity", 0.4)
        .attr("stroke", "#fff").attr("stroke-opacity", 0.4);
    const nameAt = [[cx - 51, 29, "#f9bcbc"], [cx + 52, 29, "#b9e8d2"], [cx, 267, "#f0e36a"]];
    names.forEach((n, i) => {
        g.append("text").attr("x", nameAt[i][0]).attr("y", nameAt[i][1]).attr("text-anchor", "middle")
            .attr("fill", nameAt[i][2]).style("font-size", "11px").text(n);
    });
    const countAt = [[-51.5, 107], [51.5, 107], [0, 186.5], [0, 95.5], [-32, 146.5], [32, 146.5], [0, 134]];
    counts.forEach((c, i) => {
        g.append("text").attr("x", cx + countAt[i][0]).attr("y", countAt[i][1]).attr("text-anchor", "middle")
            .attr("fill", "#222").style("font-size", "7px").text(c);
    });
}

function drawVenn2() {
    const g = svg.append("g");
    const circles = [[877, "#ff9999"], [971.5, "#99debb"]];
    g.selectAll("circle").data(circles).enter().append("circle")
        .attr("cx", d => d[0]).attr("cy", 397).attr("r", 71)
        .attr("fill", d => d[1]).attr("fill-opacity", 0.4)
        .attr("stroke", "#fff").attr("stroke-opacity", 0.4);
    const nameX = [867, 980], nameFill = ["#f9bcbc", "#b9e8d2"];
    vennAnoikisNames.forEach((n, i) => {
        g.append("text").attr("x", nameX[i]).attr("y", 313.5).attr("text-anchor", "middle")
            .attr("fill", nameFill[i]).style("font-size", "12px").text(n);
    });
    const countX = [867, 923, 980];
    vennAnoikisCounts.forEach((c, i) => {
        g.append("text").attr("x", countX[i]).attr("y", 401).attr("text-anchor", "middle")
            .attr("fill", "#222").style("font-size", "8px").text(c);
    });
}

// ---------- Box plot rows ----------
function drawBoxPanel(left, right, top, bottom, i, stats, domain, ticks, stars, labelPad) {
    const stripH = 19;
    const g = svg.append("g");
    const x = d3.scalePoint().domain(groups).range([left, right]).padding(0.6);
    const y = d3.scaleLinear().domain(domain).range([bottom, top + stripH]);
    const bw = x.step() * 0.7;

    stats.forEach((s, k) => {
        const name = groups[k], c = boxColor(name), cx = x(name);
        const b = g.append("g").attr("stroke", c).attr("fill", "none").attr("stroke-width", 1.5);
        b.append("line").attr("x1", cx).attr("x2", cx).attr("y1", y(s[4])).attr("y2", y(s[3]));
        b.append("line").attr("x1", cx).attr("x2", cx).attr("y1", y(s[1])).attr("y2", y(s[0]));
        b.append("line").attr("x1", cx - 3).attr("x2", cx + 3).attr("y1", y(s[4])).attr("y2", y(s[4]));
        b.append("line").attr("x1", cx - 3).attr("x2", cx + 3).attr("y1", y(s[0])).attr("y2", y(s[0]));
        b.append("rect").attr("x", cx - bw / 2).attr("width", bw)
            .attr("y", y(s[3])).attr("height", y(s[1]) - y(s[3]));
        b.append("line").attr("x1", cx - bw / 2).attr("x2", cx + bw / 2)
            .attr("y1", y(s[2])).attr("y2", y(s[2])).attr("stroke-width", 2.5);
    });

    // significance bracket
    const by = top + stripH + 6.5;
    g.append("path")
        .attr("d", `M${x("control")},${by + 4}V${by}H${x("OS")}V${by + 4}`)
        .attr("fill", "none").attr("stroke", "#555").attr("stroke-width", 1);
    g.append("text").attr("x", (x("control") + x("OS")) / 2).attr("y", by + 6)
        .attr("text-anchor", "middle").attr("fill", "#777").style("font-size", "14px").text(stars);

    // axes
    const hasFraction = ticks.some(t => t % 1 !== 0);
    const ay = g.append("g").attr("transform", `translate(${left},0)`)
        .call(d3.axisLeft(y).tickValues(ticks).tickSize(3).tickPadding(3).tickFormat(d3.format(hasFraction ? ".1f" : "d")));
    ay.select(".domain").remove();
    ay.selectAll(".tick line").attr("stroke", "#333");
    ay.selectAll(".tick text").attr("fill", "#000").style("font-size", "15px").style("font-weight", "bold");

    const ax = g.append("g").attr("transform", `translate(0,${bottom})`)
        .call(d3.axisBottom(x).tickSize(3).tickPadding(labelPad));
    ax.select(".domain").remove();
    ax.selectAll(".tick line").attr("stroke", "#333");
    ax.selectAll(".tick text").attr("fill", "#000").style("font-size", "15.5px").style("font-weight", "bold");

    // frame and strip
    g.append("rect").attr("x", left).attr("y", top).attr("width", right - left).attr("height", stripH)
        .attr("fill", "#d9d9d9").attr("stroke", "#666").attr("stroke-width", 1.5);
    g.append("rect").attr("x", left).attr("y", top + stripH).attr("width", right - left).attr("height", bottom - top - stripH)
        .attr("fill", "none").attr("stroke", "#666").attr("stroke-width", 1.5);
    g.append("text").attr("x", (left + right) / 2).attr("y", top + 13.5).attr("text-anchor", "middle")
        .attr("fill", "#333").style("font-size", "11px").text(genes[i]);
}

function drawLegend(titleText, titleX, titleY, legendY, dx) {
    svg.append("text").attr("x", titleX).attr("y", titleY + 6).attr("text-anchor", "middle")
        .attr("textLength", 227).attr("lengthAdjust", "spacingAndGlyphs")
        .attr("fill", "#000").style("font-size", "17px").style("font-weight", "bold").text(titleText);
    svg.append("text").attr("x", 526.5 + dx).attr("y", legendY + 5.5).attr("fill", "#000")
        .style("font-size", "15px").style("font-weight", "bold").text("Group");
    const keyX = [587 + dx, 683 + dx], textX = [617 + dx, 713 + dx];
    groups.forEach((name, i) => {
        const c = boxColor(name);
        const k = svg.append("g").attr("stroke", c).attr("stroke-width", 1.5).attr("fill", "none");
        k.append("rect").attr("x", keyX[i]).attr("y", legendY - 5.5).attr("width", 19).attr("height", 11);
        k.append("line").attr("x1", keyX[i]).attr("x2", keyX[i] + 19).attr("y1", legendY).attr("y2", legendY);
        k.append("line").attr("x1", keyX[i] + 9.5).attr("x2", keyX[i] + 9.5).attr("y1", legendY - 8.5).attr("y2", legendY - 5.5);
        k.append("line").attr("x1", keyX[i] + 9.5).attr("x2", keyX[i] + 9.5).attr("y1", legendY + 5.5).attr("y2", legendY + 8.5);
        svg.append("text").attr("x", textX[i]).attr("y", legendY + 5.5).attr("fill", "#000")
            .style("font-size", "15.5px").style("font-weight", "bold").text(name);
    });
}

drawScatter();
drawVenn3(783, vennUpNames, vennUpCounts);
drawVenn3(1065, vennDownNames, vennDownCounts);
drawVenn2();

const edgesE = [[66,203],[236.5,373.5],[397.6,534.6],[568,705],[729,866],[890,1027],[1060,1197.5]];
const edgesF = [[56.6,192.9],[216.6,353.6],[391,527.7],[561,697],[730.6,867],[891,1027.8],[1060.8,1197.5]];
const edgesG = [[56.6,192.9],[226.6,362.4],[387,522.8],[561,697],[721,857],[891,1027.8],[1060.8,1197.5]];

drawLegend("Expression(GSE16088)", 632, 494, 526, 0);
genes.forEach((g, i) => drawBoxPanel(edgesE[i][0], edgesE[i][1], 554, 719, i, statsE[i], domainsE[i], ticksE[i], starsE[i], 2));
drawLegend("Expression(GSE99671)", 627, 762, 794, -5);
genes.forEach((g, i) => drawBoxPanel(edgesF[i][0], edgesF[i][1], 821.7, 987, i, statsF[i], domainsF[i], ticksF[i], starsF[i], 2));
drawLegend("Expression(GSE19276)", 627, 1043, 1075, -5);
genes.forEach((g, i) => drawBoxPanel(edgesG[i][0], edgesG[i][1], 1103.7, 1268.7, i, statsG[i], domainsG[i], ticksG[i], starsG[i], -1));
</script>
</body>
</html>
